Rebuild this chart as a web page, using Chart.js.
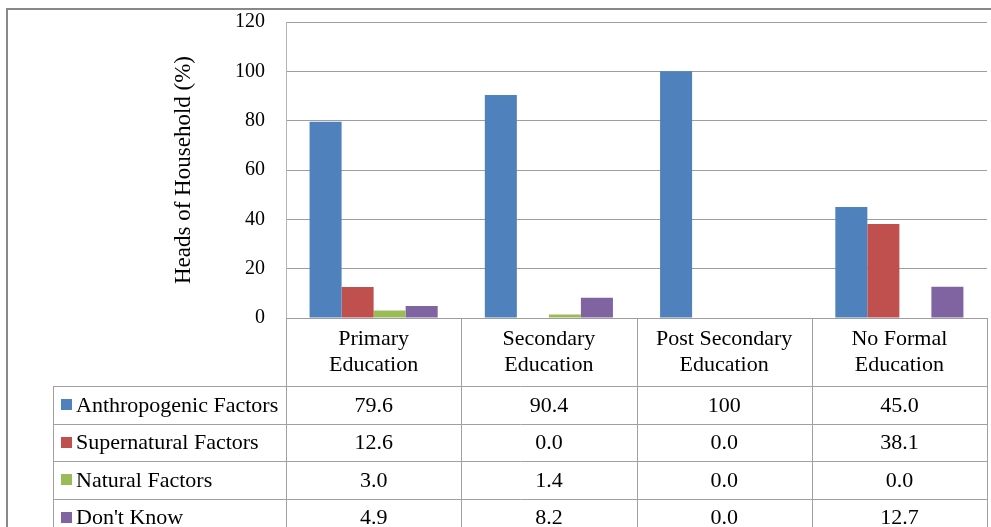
<!DOCTYPE html>
<html>
<head>
<meta charset="utf-8">
<script src="https://cdn.jsdelivr.net/npm/chart.js@4/dist/chart.umd.min.js"></script>
<style>
  html, body { margin: 0; padding: 0; background: #ffffff; }
  canvas { display: block; }
</style>
</head>
<body>
<canvas id="chart" width="991" height="527"></canvas>
<script>
// Education level of the household head (category axis / table header)
const categories = [
  ["Primary", "Education"],
  ["Secondary", "Education"],
  ["Post Secondary", "Education"],
  ["No Formal", "Education"]
];

// Perceived causes, % of heads of household
const seriesNames = ["Anthropogenic Factors", "Supernatural Factors", "Natural Factors", "Don't Know"];
const anthropogenic = [79.6, 90.4, 100, 45.0];
const supernatural  = [12.6, 0.0, 0.0, 38.1];
const natural       = [3.0, 1.4, 0.0, 0.0];
const dontKnow      = [4.9, 8.2, 0.0, 12.7];

const yTicks = [0, 20, 40, 60, 80, 100, 120];

const seriesColors = ["#4F81BD", "#C0504D", "#9BBB59", "#8064A2"];
const seriesValues = [anthropogenic, supernatural, natural, dontKnow];

const FONT = "'Liberation Serif', 'Times New Roman', serif";
const LINE = "#a0a0a0";
const HEADER_H = 68;   // header row of the table (category names)
const ROW_H = 37.5;    // one table row per series

function fmt(v) {
  return (Number.isInteger(v) && v >= 100) ? String(v) : v.toFixed(1);
}

// Frame around the chart plus the data table under the plot
const dataTable = {
  id: "dataTable",
  afterDraw(chart) {
    const ctx = chart.ctx;
    const xs = chart.scales.x;
    const area = chart.chartArea;
    const n = categories.length;
    const colW = (area.right - area.left) / n;
    const headerBottom = area.bottom + HEADER_H;
    const tableLeft = 53;
    const bottom = chart.height + 5;

    ctx.save();

    // outer frame
    ctx.strokeStyle = "#888888";
    ctx.lineWidth = 2;
    ctx.beginPath();
    ctx.moveTo(7, chart.height + 5);
    ctx.lineTo(7, 9);
    ctx.lineTo(chart.width + 5, 9);
    ctx.stroke();

    // table grid
    ctx.strokeStyle = LINE;
    ctx.lineWidth = 1;
    ctx.beginPath();
    for (let i = 0; i <= n; i++) {
      const px = Math.round(area.left + i * colW) + 0.5;
      ctx.moveTo(px, area.bottom);
      ctx.lineTo(px, bottom);
    }
    ctx.moveTo(tableLeft + 0.5, headerBottom);
    ctx.lineTo(tableLeft + 0.5, bottom);
    for (let r = 0; r <= seriesNames.length; r++) {
      const py = Math.round(headerBottom + r * ROW_H) + 0.5;
      ctx.moveTo(tableLeft, py);
      ctx.lineTo(Math.round(area.right) + 0.5, py);
    }
    ctx.stroke();

    // legend keys, series names and values
    ctx.font = "22px " + FONT;
    ctx.textBaseline = "middle";
    seriesNames.forEach((name, r) => {
      const cy = headerBottom + r * ROW_H + ROW_H / 2;
      ctx.fillStyle = seriesColors[r];
      ctx.fillRect(61, Math.round(cy - 5.5), 11, 11);
      ctx.fillStyle = "#000000";
      ctx.textAlign = "left";
      ctx.fillText(name, 76, cy + 1);
      ctx.textAlign = "center";
      seriesValues[r].forEach((v, i) => {
        ctx.fillText(fmt(v), xs.getPixelForValue(i), cy + 1);
      });
    });

    ctx.restore();
  }
};

new Chart(document.getElementById("chart"), {
  type: "bar",
  data: {
    labels: categories,
    datasets: seriesNames.map((name, i) => ({
      label: name,
      data: seriesValues[i],
      backgroundColor: seriesColors[i],
      borderWidth: 0,
      categoryPercentage: 0.731,
      barPercentage: 1.0
    }))
  },
  options: {
    responsive: false,
    animation: false,
    devicePixelRatio: 1,
    layout: { padding: { left: 166, right: 4, top: 22, bottom: 209 - HEADER_H } },
    plugins: {
      legend: { display: false },
      tooltip: { enabled: false }
    },
    scales: {
      x: {
        grid: { display: false, drawTicks: false },
        border: { display: false },
        ticks: {
          color: "#000000",
          padding: 8,
          maxRotation: 0,
          autoSkip: false,
          font: { family: FONT, size: 22, lineHeight: 1.18 }
        },
        afterFit(scale) {
          scale.height = HEADER_H;
          scale.paddingLeft = 0;
          scale.paddingRight = 0;
        }
      },
      y: {
        min: 0,
        max: 120,
        afterBuildTicks(scale) { scale.ticks = yTicks.map(v => ({ value: v })); },
        grid: { color: "#9e9e9e", lineWidth: 1, drawTicks: false },
        border: { display: true, color: "#b4b4b4", width: 1 },
        ticks: {
          color: "#000000",
          padding: 21,
          font: { family: FONT, size: 20 }
        },
        title: {
          display: true,
          text: "Heads of Household (%)",
          color: "#000000",
          font: { family: FONT, size: 23 }
        },
        afterFit(scale) {
          scale.width = 120;
          scale.paddingTop = 0;
          scale.paddingBottom = 0;
        }
      }
    }
  },
  plugins: [dataTable]
});
</script>
</body>
</html>
